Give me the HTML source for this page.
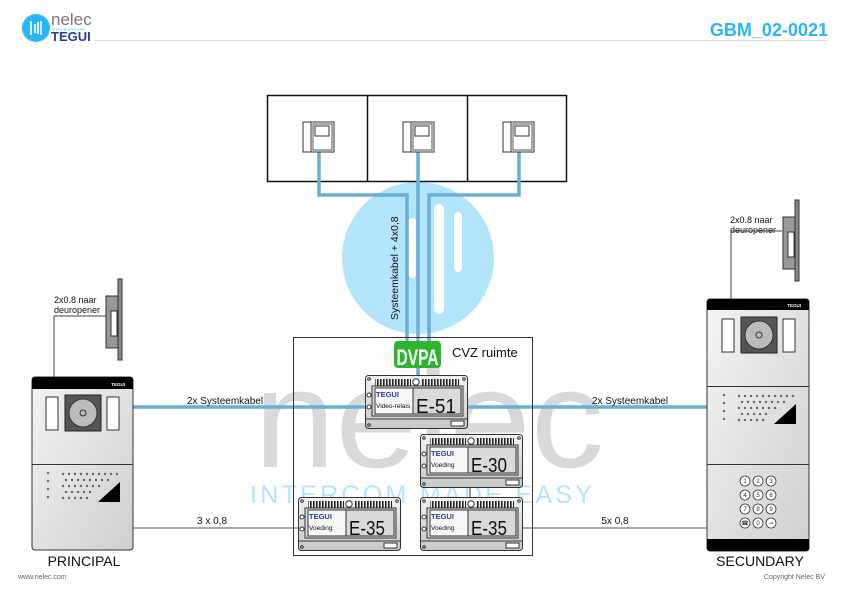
<!DOCTYPE html>
<html><head><meta charset="utf-8"><style>
html,body{margin:0;padding:0;background:#fff}
svg{display:block}
text{font-family:"Liberation Sans",sans-serif}
</style></head><body>
<svg width="841" height="595" viewBox="0 0 841 595" xmlns="http://www.w3.org/2000/svg">
<defs>
<linearGradient id="mg" x1="0" y1="0" x2="0" y2="1"><stop offset="0" stop-color="#f2f2f2"/><stop offset="1" stop-color="#c8c8c8"/></linearGradient>
<linearGradient id="pg" x1="0" y1="0" x2="1" y2="1"><stop offset="0" stop-color="#f4f4f4"/><stop offset="1" stop-color="#cfcfcf"/></linearGradient>
<pattern id="vent" width="3" height="8" patternUnits="userSpaceOnUse"><rect width="1.6" height="8" fill="#222"/></pattern>
<g id="mod">
<rect x="0.5" y="0.5" width="102" height="53" rx="3" fill="url(#mg)" stroke="#333"/>
<rect x="10" y="4" width="36" height="7" fill="url(#vent)"/>
<rect x="56" y="4" width="38" height="7" fill="url(#vent)"/>
<circle cx="51" cy="7" r="3.2" fill="#fff" stroke="#333"/>
<circle cx="4" cy="4" r="1.3" fill="none" stroke="#333"/><circle cx="99" cy="4" r="1.3" fill="none" stroke="#333"/>
<circle cx="4" cy="50" r="1.3" fill="none" stroke="#333"/>
<rect x="7" y="11" width="91" height="30" fill="#ddd" stroke="#333"/>
<rect x="10" y="13" width="38" height="26" fill="#f7f7f7" stroke="#333"/>
<rect x="48" y="13" width="48" height="26" fill="#d9d9d9" stroke="#333"/>
<circle cx="4" cy="20" r="2" fill="#fff" stroke="#333"/><circle cx="4" cy="32" r="2" fill="#fff" stroke="#333"/>
<line x1="1" y1="44" x2="102" y2="44" stroke="#333"/>
<rect x="86" y="46" width="13" height="5" fill="#fff" stroke="#333"/>
</g>
<g id="mon">
<rect x="0" y="0" width="31" height="30" fill="#fff" stroke="#333"/>
<line x1="8" y1="0" x2="8" y2="30" stroke="#333"/>
<rect x="10" y="2" width="19" height="26" fill="#fff" stroke="#555"/>
<rect x="12" y="4" width="14" height="10" fill="#fff" stroke="#333"/>
</g>
</defs>

<!-- header -->
<circle cx="36" cy="28" r="14" fill="#29b6f6"/>
<g stroke="#fff" stroke-width="1.6"><line x1="31" y1="21" x2="31" y2="35"/><line x1="35" y1="24" x2="35" y2="33"/><line x1="38" y1="22" x2="38" y2="34"/><line x1="41" y1="21" x2="41" y2="35"/></g>
<text x="51" y="25" font-size="17" fill="#777">nelec</text>
<text x="51" y="30.5" font-size="3" fill="#29b6f6">INTERCOM MADE EASY</text>
<text x="51" y="41" font-size="13" font-weight="bold" fill="#2e3d8f" font-family="Liberation Serif,serif">TEGUI</text>
<line x1="95" y1="40.5" x2="828" y2="40.5" stroke="#ddd"/>
<text x="828" y="36" font-size="18" font-weight="bold" fill="#29b6f6" text-anchor="end">GBM_02-0021</text>

<!-- watermark -->
<circle cx="418" cy="258" r="76" fill="#b3e5fc"/>
<g fill="#fff"><rect x="408" y="218" width="8" height="60" rx="4"/><rect x="434" y="204" width="10" height="110" rx="5"/><rect x="454" y="212" width="8" height="60" rx="4"/></g>
<text x="254" y="467" font-size="140" fill="#d9d9d9" textLength="350" lengthAdjust="spacingAndGlyphs">nelec</text>
<text x="250" y="503" font-size="25" fill="#b3e5fc" textLength="342" lengthAdjust="spacing">INTERCOM MADE EASY</text>

<!-- apartments -->
<rect x="267.5" y="95.5" width="299" height="86" fill="none" stroke="#111" stroke-width="1.5"/>
<line x1="367.5" y1="95" x2="367.5" y2="182" stroke="#111" stroke-width="1.5"/>
<line x1="467.5" y1="95" x2="467.5" y2="182" stroke="#111" stroke-width="1.5"/>
<g stroke="#6baed6" stroke-width="3.5" fill="none">
<polyline points="319,152 319,195 407,195 407,343"/>
<polyline points="418,152 418,343"/>
<polyline points="519,152 519,195 429,195 429,343"/>
<line x1="418" y1="368" x2="418" y2="376"/>
<line x1="133" y1="407" x2="365" y2="407"/>
<line x1="468" y1="407" x2="707" y2="407"/>
</g>
<use href="#mon" x="303" y="122"/><use href="#mon" x="403" y="122"/><use href="#mon" x="503" y="122"/>
<text transform="translate(398,320) rotate(-90)" font-size="10.5" fill="#111">Systeemkabel + 4x0,8</text>

<!-- CVZ -->
<rect x="293.5" y="337.5" width="239" height="218" fill="none" stroke="#333"/>
<rect x="394" y="341" width="47" height="27" rx="4" fill="#2db52d"/>
<text x="417.5" y="365" font-size="22" font-weight="bold" fill="#fff" text-anchor="middle" textLength="42" lengthAdjust="spacingAndGlyphs">DVPA</text>
<text x="452" y="357" font-size="13" fill="#111">CVZ ruimte</text>
<line x1="470" y1="487" x2="470" y2="497" stroke="#333"/>
<line x1="133" y1="528" x2="299" y2="528" stroke="#555"/>
<line x1="523" y1="528" x2="707" y2="528" stroke="#555"/>

<use href="#mod" x="365" y="375"/>
<use href="#mod" x="420" y="434"/>
<use href="#mod" x="298" y="497"/>
<use href="#mod" x="420" y="497"/>
<g font-size="7.5" fill="#111">
<text x="376" y="397" font-weight="bold" fill="#2e3d8f" font-family="Liberation Serif,serif">TEGUI</text><text x="376" y="408" font-size="6.5">Video-relais</text>
<text x="416" y="413" font-size="20" textLength="40" lengthAdjust="spacingAndGlyphs">E-51</text>
<text x="431" y="456" font-weight="bold" fill="#2e3d8f" font-family="Liberation Serif,serif">TEGUI</text><text x="431" y="467" font-size="6.5">Voeding</text>
<text x="471" y="472" font-size="20" textLength="36" lengthAdjust="spacingAndGlyphs">E-30</text>
<text x="309" y="519" font-weight="bold" fill="#2e3d8f" font-family="Liberation Serif,serif">TEGUI</text><text x="309" y="530" font-size="6.5">Voeding</text>
<text x="349" y="535" font-size="20" textLength="36" lengthAdjust="spacingAndGlyphs">E-35</text>
<text x="431" y="519" font-weight="bold" fill="#2e3d8f" font-family="Liberation Serif,serif">TEGUI</text><text x="431" y="530" font-size="6.5">Voeding</text>
<text x="471" y="535" font-size="20" textLength="36" lengthAdjust="spacingAndGlyphs">E-35</text>
</g>

<!-- labels -->
<g font-size="10" fill="#111">
<text x="225" y="404" text-anchor="middle">2x Systeemkabel</text>
<text x="630" y="404" text-anchor="middle">2x Systeemkabel</text>
<text x="212" y="524" text-anchor="middle">3 x 0,8</text>
<text x="615" y="524" text-anchor="middle">5x 0,8</text>
<text x="54" y="303" font-size="9">2x0.8 naar</text><text x="54" y="313" font-size="9">deuropener</text>
<text x="730" y="223" font-size="9">2x0.8 naar</text><text x="730" y="233" font-size="9">deuropener</text>
</g>

<!-- door openers -->
<polyline points="106,316 54,316 54,377" fill="none" stroke="#444"/>
<rect x="118" y="279" width="4" height="81" fill="#888" stroke="#333"/>
<rect x="106" y="296" width="12" height="52" fill="#999" stroke="#333"/>
<rect x="111" y="311" width="6" height="25" fill="#fff" stroke="#333"/>
<polyline points="782,231 731,231 731,299" fill="none" stroke="#444"/>
<rect x="795" y="200" width="4" height="81" fill="#888" stroke="#333"/>
<rect x="783" y="217" width="12" height="52" fill="#999" stroke="#333"/>
<rect x="788" y="232" width="6" height="25" fill="#fff" stroke="#333"/>

<!-- left panel -->
<rect x="32" y="377" width="101" height="173" rx="3" fill="url(#pg)" stroke="#333"/>
<path d="M32 389 V380 a3 3 0 0 1 3 -3 H130 a3 3 0 0 1 3 3 V389 Z" fill="#000"/>
<text x="125" y="386" font-size="4.5" fill="#fff" text-anchor="end" font-weight="bold">TEGUI</text>
<rect x="46" y="397" width="12" height="33" fill="#fff" stroke="#333"/>
<rect x="107" y="397" width="12" height="33" fill="#fff" stroke="#333"/>
<rect x="65" y="395" width="36" height="36" fill="#555" stroke="#222"/>
<circle cx="83" cy="413" r="14" fill="#bbb" stroke="#333"/><circle cx="83" cy="413" r="3" fill="none" stroke="#333"/>
<line x1="32" y1="464.5" x2="133" y2="464.5" stroke="#333"/>
<g fill="#666"><circle cx="48" cy="473" r="1.2"/><circle cx="48" cy="481" r="1.2"/><circle cx="48" cy="489" r="1.2"/><circle cx="48" cy="497" r="1.2"/></g>
<g fill="#666">
<circle cx="63" cy="474" r="1.2"/><circle cx="69" cy="474" r="1.2"/><circle cx="75" cy="474" r="1.2"/><circle cx="81" cy="474" r="1.2"/><circle cx="87" cy="474" r="1.2"/><circle cx="93" cy="474" r="1.2"/><circle cx="99" cy="474" r="1.2"/><circle cx="105" cy="474" r="1.2"/><circle cx="111" cy="474" r="1.2"/><circle cx="117" cy="474" r="1.2"/>
<circle cx="66" cy="480" r="1.2"/><circle cx="72" cy="480" r="1.2"/><circle cx="78" cy="480" r="1.2"/><circle cx="84" cy="480" r="1.2"/><circle cx="90" cy="480" r="1.2"/><circle cx="96" cy="480" r="1.2"/><circle cx="102" cy="480" r="1.2"/><circle cx="108" cy="480" r="1.2"/>
<circle cx="63" cy="486" r="1.2"/><circle cx="69" cy="486" r="1.2"/><circle cx="75" cy="486" r="1.2"/><circle cx="81" cy="486" r="1.2"/><circle cx="87" cy="486" r="1.2"/><circle cx="93" cy="486" r="1.2"/><circle cx="99" cy="486" r="1.2"/>
<circle cx="66" cy="492" r="1.2"/><circle cx="72" cy="492" r="1.2"/><circle cx="78" cy="492" r="1.2"/><circle cx="84" cy="492" r="1.2"/><circle cx="90" cy="492" r="1.2"/>
<circle cx="63" cy="498" r="1.2"/><circle cx="69" cy="498" r="1.2"/><circle cx="75" cy="498" r="1.2"/><circle cx="81" cy="498" r="1.2"/><circle cx="87" cy="498" r="1.2"/>
</g>
<polygon points="98,502 120,502 120,482" fill="#000"/>
<text x="84" y="566" font-size="14" fill="#111" text-anchor="middle">PRINCIPAL</text>

<!-- right panel -->
<rect x="707" y="299" width="102" height="252" rx="3" fill="url(#pg)" stroke="#333"/>
<path d="M707 310 V302 a3 3 0 0 1 3 -3 H806 a3 3 0 0 1 3 3 V310 Z" fill="#000"/>
<path d="M707 539 H809 V548 a3 3 0 0 1 -3 3 H710 a3 3 0 0 1 -3 -3 Z" fill="#000"/>
<text x="801" y="307" font-size="4.5" fill="#fff" text-anchor="end" font-weight="bold">TEGUI</text>
<rect x="722" y="319" width="12" height="33" fill="#fff" stroke="#333"/>
<rect x="783" y="319" width="12" height="33" fill="#fff" stroke="#333"/>
<rect x="741" y="317" width="36" height="36" fill="#555" stroke="#222"/>
<circle cx="759" cy="335" r="14" fill="#bbb" stroke="#333"/><circle cx="759" cy="335" r="3" fill="none" stroke="#333"/>
<line x1="707" y1="386.5" x2="809" y2="386.5" stroke="#333"/>
<line x1="707" y1="464.5" x2="809" y2="464.5" stroke="#333"/>
<g fill="#666"><circle cx="724" cy="395" r="1.2"/><circle cx="724" cy="403" r="1.2"/><circle cx="724" cy="411" r="1.2"/><circle cx="724" cy="419" r="1.2"/>
<circle cx="739" cy="396" r="1.2"/><circle cx="745" cy="396" r="1.2"/><circle cx="751" cy="396" r="1.2"/><circle cx="757" cy="396" r="1.2"/><circle cx="763" cy="396" r="1.2"/><circle cx="769" cy="396" r="1.2"/><circle cx="775" cy="396" r="1.2"/><circle cx="781" cy="396" r="1.2"/><circle cx="787" cy="396" r="1.2"/><circle cx="793" cy="396" r="1.2"/>
<circle cx="742" cy="402" r="1.2"/><circle cx="748" cy="402" r="1.2"/><circle cx="754" cy="402" r="1.2"/><circle cx="760" cy="402" r="1.2"/><circle cx="766" cy="402" r="1.2"/><circle cx="772" cy="402" r="1.2"/><circle cx="778" cy="402" r="1.2"/><circle cx="784" cy="402" r="1.2"/>
<circle cx="739" cy="408" r="1.2"/><circle cx="745" cy="408" r="1.2"/><circle cx="751" cy="408" r="1.2"/><circle cx="757" cy="408" r="1.2"/><circle cx="763" cy="408" r="1.2"/><circle cx="769" cy="408" r="1.2"/><circle cx="775" cy="408" r="1.2"/>
<circle cx="742" cy="414" r="1.2"/><circle cx="748" cy="414" r="1.2"/><circle cx="754" cy="414" r="1.2"/><circle cx="760" cy="414" r="1.2"/><circle cx="766" cy="414" r="1.2"/>
<circle cx="739" cy="420" r="1.2"/><circle cx="745" cy="420" r="1.2"/><circle cx="751" cy="420" r="1.2"/><circle cx="757" cy="420" r="1.2"/><circle cx="763" cy="420" r="1.2"/></g>
<polygon points="774,424 796,424 796,404" fill="#000"/>
<g fill="#fff" stroke="#333" stroke-width="0.8">
<circle cx="745" cy="481" r="5"/><circle cx="758" cy="481" r="5"/><circle cx="771" cy="481" r="5"/>
<circle cx="745" cy="495" r="5"/><circle cx="758" cy="495" r="5"/><circle cx="771" cy="495" r="5"/>
<circle cx="745" cy="509" r="5"/><circle cx="758" cy="509" r="5"/><circle cx="771" cy="509" r="5"/>
<circle cx="745" cy="523" r="5"/><circle cx="758" cy="523" r="5"/><circle cx="771" cy="523" r="5"/>
</g>
<g font-size="6" fill="#333" text-anchor="middle">
<text x="745" y="483">1</text><text x="758" y="483">2</text><text x="771" y="483">3</text>
<text x="745" y="497">4</text><text x="758" y="497">5</text><text x="771" y="497">6</text>
<text x="745" y="511">7</text><text x="758" y="511">8</text><text x="771" y="511">9</text>
<text x="745" y="525">☎</text><text x="758" y="525">0</text><text x="771" y="525">⊸</text>
</g>
<text x="760" y="566" font-size="14" fill="#111" text-anchor="middle">SECUNDARY</text>

<!-- footer -->
<text x="18" y="579" font-size="7" fill="#666">www.nelec.com</text>
<text x="825" y="579" font-size="7" fill="#666" text-anchor="end">Copyright Nelec BV</text>
</svg>
</body></html>
